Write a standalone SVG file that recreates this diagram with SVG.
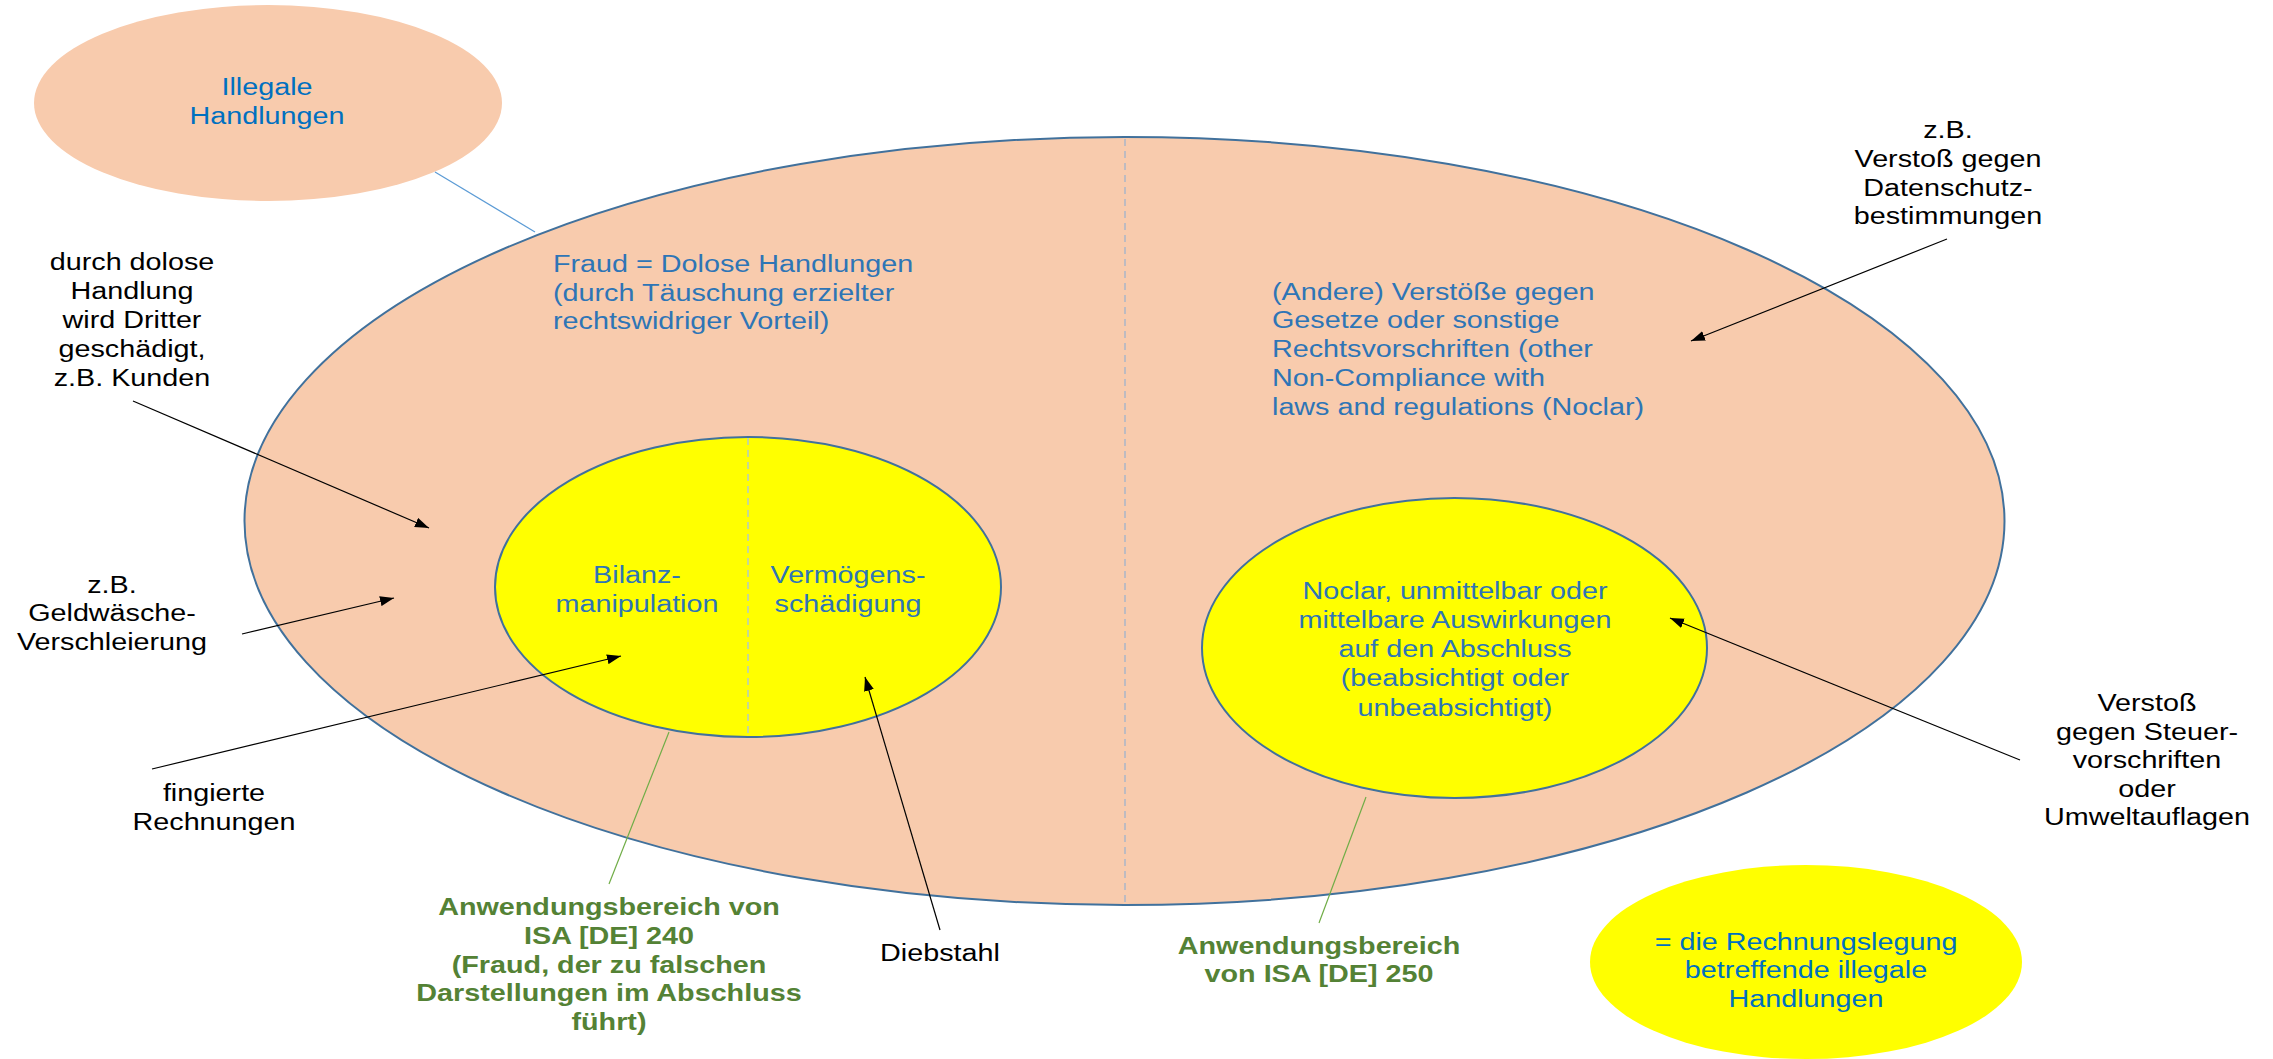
<svg xmlns="http://www.w3.org/2000/svg" width="2273" height="1059" viewBox="0 0 2273 1059">
<defs>
<style>
.t{font-family:"Liberation Sans",Arial,sans-serif;font-size:23px}
.blue{fill:#2E75B6}
.bright{fill:#0070C0}
.black{fill:#000}
.green{fill:#548235;font-weight:bold}
.peach{fill:#F8CBAD}
.yel{fill:#FFFF00}
.edge{stroke:#41719C;stroke-width:2}
.div{stroke:#9FB3CC;stroke-width:1.3;stroke-dasharray:7 5;fill:none}
.arr{stroke:#000;stroke-width:1.2;fill:none;marker-end:url(#ah)}
.gl{stroke:#70AD47;stroke-width:1.2;fill:none}
.bl{stroke:#5B9BD5;stroke-width:1.2;fill:none}
</style>
<marker id="ah" viewBox="0 0 14 10" refX="14" refY="5" markerWidth="14" markerHeight="10" markerUnits="userSpaceOnUse" orient="auto">
<path d="M0,0 L14,5 L0,10 Z" fill="#000"/>
</marker>
</defs>
<rect width="2273" height="1059" fill="#fff"/>

<g id="illegale">
<ellipse class="peach" cx="268" cy="103" rx="234" ry="98"/>
<text class="t bright" text-anchor="middle" transform="translate(267,0) scale(1.25,1)"><tspan x="0" y="95">Illegale</tspan><tspan x="0" y="124">Handlungen</tspan></text>
</g>

<g id="big-ellipse">
<ellipse class="peach edge" cx="1124.5" cy="521" rx="880" ry="384"/>
<line class="div" x1="1125" y1="139" x2="1125" y2="903"/>
</g>

<g id="fraud">
<text class="t blue" transform="translate(553,0) scale(1.25,1)"><tspan x="0" y="272">Fraud = Dolose Handlungen</tspan><tspan x="0" y="301">(durch Täuschung erzielter</tspan><tspan x="0" y="329">rechtswidriger Vorteil)</tspan></text>
</g>

<g id="andere">
<text class="t blue" transform="translate(1272,0) scale(1.25,1)"><tspan x="0" y="300">(Andere) Verstöße gegen</tspan><tspan x="0" y="328.5">Gesetze oder sonstige</tspan><tspan x="0" y="357">Rechtsvorschriften (other</tspan><tspan x="0" y="386">Non-Compliance with</tspan><tspan x="0" y="415">laws and regulations (Noclar)</tspan></text>
</g>

<g id="fraud-inner">
<ellipse class="yel edge" cx="748" cy="587" rx="253" ry="150"/>
<line class="div" x1="748" y1="438" x2="748" y2="736" style="stroke:#A9C4E0"/>
<text class="t blue" text-anchor="middle" transform="translate(637,0) scale(1.25,1)"><tspan x="0" y="583">Bilanz-</tspan><tspan x="0" y="612">manipulation</tspan></text>
<text class="t blue" text-anchor="middle" transform="translate(848,0) scale(1.25,1)"><tspan x="0" y="583">Vermögens-</tspan><tspan x="0" y="612">schädigung</tspan></text>
</g>

<g id="noclar-inner">
<ellipse class="yel edge" cx="1454.5" cy="648" rx="252.5" ry="150"/>
<text class="t blue" text-anchor="middle" transform="translate(1455,0) scale(1.25,1)"><tspan x="0" y="599">Noclar, unmittelbar oder</tspan><tspan x="0" y="628">mittelbare Auswirkungen</tspan><tspan x="0" y="657.5">auf den Abschluss</tspan><tspan x="0" y="686.5">(beabsichtigt oder</tspan><tspan x="0" y="716">unbeabsichtigt)</tspan></text>
</g>

<g id="legend">
<ellipse class="yel" cx="1806" cy="962" rx="216" ry="97"/>
<text class="t bright" text-anchor="middle" transform="translate(1806,0) scale(1.25,1)"><tspan x="0" y="950">= die Rechnungslegung</tspan><tspan x="0" y="978">betreffende illegale</tspan><tspan x="0" y="1007">Handlungen</tspan></text>
</g>

<g id="label-dritter">
<text class="t black" text-anchor="middle" transform="translate(132,0) scale(1.25,1)"><tspan x="0" y="270">durch dolose</tspan><tspan x="0" y="299">Handlung</tspan><tspan x="0" y="328">wird Dritter</tspan><tspan x="0" y="357">geschädigt,</tspan><tspan x="0" y="386">z.B. Kunden</tspan></text>
</g>

<g id="label-geldwaesche">
<text class="t black" text-anchor="middle" transform="translate(112,0) scale(1.25,1)"><tspan x="0" y="593">z.B.</tspan><tspan x="0" y="621">Geldwäsche-</tspan><tspan x="0" y="650">Verschleierung</tspan></text>
</g>

<g id="label-fingiert">
<text class="t black" text-anchor="middle" transform="translate(214,0) scale(1.25,1)"><tspan x="0" y="801">fingierte</tspan><tspan x="0" y="830">Rechnungen</tspan></text>
</g>

<g id="label-diebstahl">
<text class="t black" text-anchor="middle" transform="translate(940,0) scale(1.25,1)"><tspan x="0" y="961">Diebstahl</tspan></text>
</g>

<g id="label-datenschutz">
<text class="t black" text-anchor="middle" transform="translate(1948,0) scale(1.25,1)"><tspan x="0" y="138">z.B.</tspan><tspan x="0" y="167">Verstoß gegen</tspan><tspan x="0" y="196">Datenschutz-</tspan><tspan x="0" y="224.5">bestimmungen</tspan></text>
</g>

<g id="label-steuer">
<text class="t black" text-anchor="middle" transform="translate(2147,0) scale(1.25,1)"><tspan x="0" y="711">Verstoß</tspan><tspan x="0" y="740">gegen Steuer-</tspan><tspan x="0" y="768.5">vorschriften</tspan><tspan x="0" y="797">oder</tspan><tspan x="0" y="825.5">Umweltauflagen</tspan></text>
</g>

<g id="label-isa240">
<text class="t green" text-anchor="middle" transform="translate(609,0) scale(1.25,1)"><tspan x="0" y="915">Anwendungsbereich von</tspan><tspan x="0" y="944">ISA [DE] 240</tspan><tspan x="0" y="973">(Fraud, der zu falschen</tspan><tspan x="0" y="1001.5">Darstellungen im Abschluss</tspan><tspan x="0" y="1030">führt)</tspan></text>
</g>

<g id="label-isa250">
<text class="t green" text-anchor="middle" transform="translate(1319,0) scale(1.25,1)"><tspan x="0" y="954">Anwendungsbereich</tspan><tspan x="0" y="982">von ISA [DE] 250</tspan></text>
</g>

<g id="connectors">
<line class="bl" x1="435" y1="172" x2="535" y2="232"/>
<line class="arr" x1="133" y1="401" x2="429" y2="528"/>
<line class="arr" x1="242" y1="634" x2="394" y2="598"/>
<line class="arr" x1="152" y1="769" x2="621" y2="656"/>
<line class="arr" x1="940" y1="930" x2="865" y2="677"/>
<line class="arr" x1="1947" y1="239" x2="1691" y2="341"/>
<line class="arr" x1="2020" y1="760" x2="1670" y2="618"/>
<line class="gl" x1="669" y1="732" x2="609" y2="884"/>
<line class="gl" x1="1366" y1="797" x2="1319" y2="923"/>
</g>
</svg>
